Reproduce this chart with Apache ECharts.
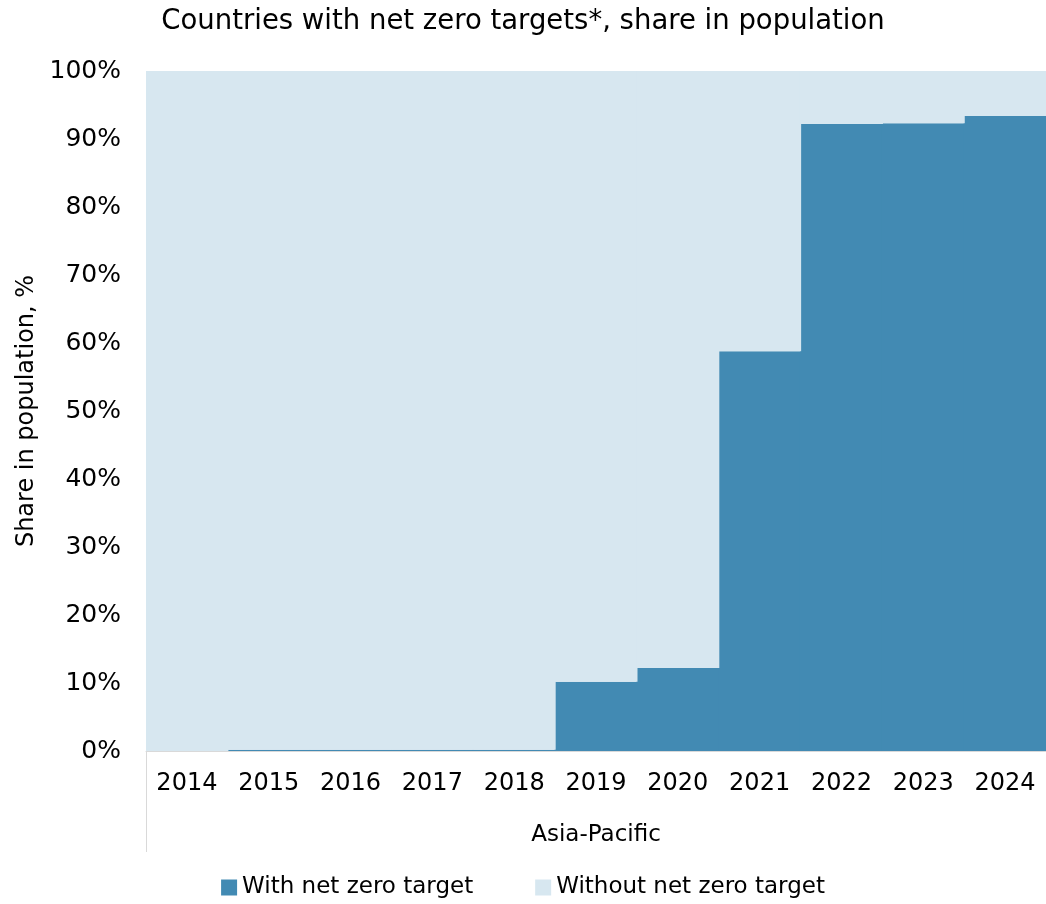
<!DOCTYPE html>
<html>
<head>
<meta charset="utf-8">
<script src="https://cdn.jsdelivr.net/npm/echarts@6/dist/echarts.min.js"></script>
<style>
	html, body { margin: 0; padding: 0; background: #fff; }
	#chart { width: 1046px; height: 904px; }
</style>
</head>
<body>
<div id="chart"></div>
<script>
// Data
const years = ['2014', '2015', '2016', '2017', '2018', '2019', '2020', '2021', '2022', '2023', '2024']
const withTarget = [0, 0.2, 0.2, 0.2, 0.2, 10.2, 12.2, 58.8, 92.2, 92.3, 93.4]
const withoutTarget = [100, 99.8, 99.8, 99.8, 99.8, 89.8, 87.8, 41.2, 7.8, 7.7, 6.6]
const groupLabel = 'Asia-Pacific'

const font = 'DejaVu Sans'

const chart = echarts.init(document.getElementById('chart'))

const option = {
	animation: false,
	textStyle: { fontFamily: font, color: '#000' },
	title: {
		text: 'Countries with net zero targets*, share in population',
		left: 'center',
		top: 3,
		textStyle: { fontFamily: font, fontSize: 27.5, fontWeight: 'normal', color: '#000' },
	},
	grid: { left: 146, right: 0, top: 71, bottom: 153 },
	legend: {
		bottom: 0,
		left: 'center',
		itemWidth: 16,
		itemHeight: 16,
		itemGap: 62,
		itemTextGap: 10,
		icon: 'rect',
		textStyle: { fontFamily: font, fontSize: 23, color: '#000' },
		data: ['With net zero target', 'Without net zero target'],
	},
	xAxis: {
		type: 'category',
		data: years,
		name: groupLabel,
		nameLocation: 'middle',
		nameGap: 73,
		nameTextStyle: { fontFamily: font, fontSize: 23, color: '#000' },
		axisLine: { lineStyle: { color: '#d9d9d9', width: 1 } },
		axisTick: { show: false },
		axisLabel: { fontFamily: font, fontSize: 24, color: '#000', margin: 21 },
	},
	yAxis: {
		type: 'value',
		min: 0,
		max: 100,
		interval: 10,
		name: 'Share in population, %',
		nameLocation: 'middle',
		nameGap: 103,
		nameTextStyle: { fontFamily: font, fontSize: 24, color: '#000' },
		splitLine: { show: false },
		axisLine: { show: false },
		axisTick: { show: false },
		axisLabel: { fontFamily: font, fontSize: 25, color: '#000', margin: 25, formatter: '{value}%' },
	},
	series: [
		{
			name: 'With net zero target',
			type: 'bar',
			stack: 'share',
			barWidth: 83, // a touch wider than the band so neighbouring bars leave no seam
			itemStyle: { color: '#428ab3' },
			data: withTarget,
		},
		{
			name: 'Without net zero target',
			type: 'bar',
			stack: 'share',
			barWidth: 83,
			itemStyle: { color: '#d7e7f0' },
			data: withoutTarget,
		},
	],
	graphic: [
		{
			// group separator line under the axis
			type: 'line',
			shape: { x1: 146.5, y1: 751, x2: 146.5, y2: 852 },
			style: { stroke: '#d9d9d9', lineWidth: 1 },
		},
	],
}

chart.setOption(option)
</script>
</body>
</html>
